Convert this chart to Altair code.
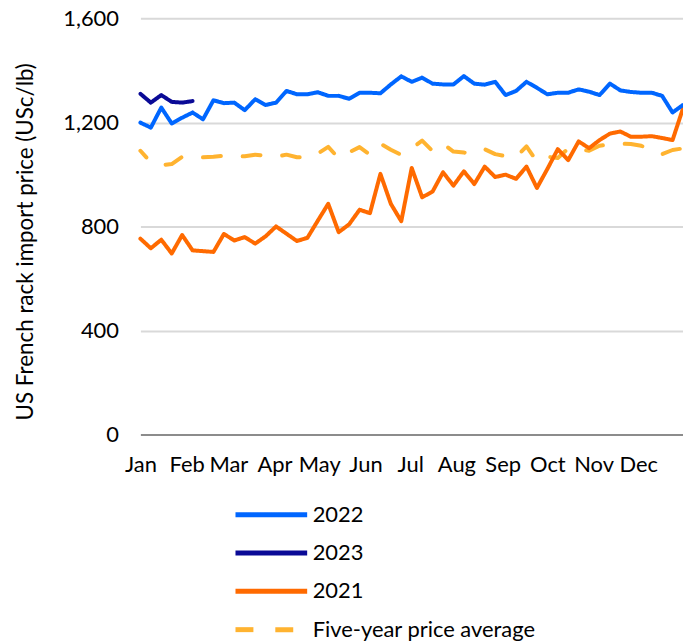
import altair as alt
import pandas as pd

# Weekly x positions (53 weeks spanning Jan 1 - Dec 31)
weeks = pd.date_range("2022-01-01", periods=53, freq="7D").strftime("%Y-%m-%d").tolist()

s2022 = [1199, 1180, 1257, 1196, 1218, 1238, 1212, 1285, 1274, 1276, 1247, 1289, 1267, 1276,
         1321, 1308, 1308, 1316, 1302, 1302, 1291, 1314, 1314, 1312, 1346, 1377, 1356, 1372,
         1349, 1346, 1346, 1378, 1349, 1345, 1356, 1305, 1321, 1356, 1333, 1308, 1314, 1314,
         1327, 1318, 1305, 1349, 1323, 1317, 1314, 1314, 1302, 1238, 1267]
s2023 = [1310, 1276, 1305, 1279, 1276, 1282]
s2021 = [753, 716, 749, 696, 767, 708, 705, 702, 771, 746, 759, 734, 762, 800, 772, 744, 756,
         822, 887, 778, 808, 864, 851, 1002, 887, 820, 1025, 912, 934, 1008, 957, 1012, 963,
         1030, 990, 999, 983, 1030, 948, 1021, 1097, 1055, 1127, 1101, 1132, 1157, 1165, 1145,
         1145, 1147, 1140, 1132, 1254]
avg5 = [1091, 1046, 1035, 1040, 1068, 1063, 1066, 1068, 1072, 1068, 1070, 1076, 1072, 1068,
        1076, 1066, 1066, 1080, 1106, 1062, 1085, 1105, 1076, 1118, 1095, 1075, 1100, 1130,
        1090, 1118, 1088, 1084, 1080, 1097, 1078, 1070, 1066, 1108, 1050, 1068, 1063, 1100,
        1098, 1091, 1110, 1117, 1118, 1117, 1110, 1094, 1078, 1094, 1100]

series_names = ["2022", "2023", "2021", "Five-year price average"]
series_colors = ["#0066ff", "#0a0a96", "#ff6a00", "#ffb330"]
series_dash = [[1, 0], [1, 0], [1, 0], [18, 22]]
month_labels = ["Jan", "Feb", "Mar", "Apr", "May", "Jun",
                "Jul", "Aug", "Sep", "Oct", "Nov", "Dec"]
y_ticks = [0, 400, 800, 1200, 1600]
y_title = "US French rack import price (USc/lb)"

rows = []
for name, vals in [("Five-year price average", avg5), ("2021", s2021),
                   ("2022", s2022), ("2023", s2023)]:
    for d, v in zip(weeks, vals):
        rows.append({"week": d, "price": v, "series": name})
df = pd.DataFrame(rows)

FONT = "Lato"
month_expr = "[" + ",".join("'%s'" % m for m in month_labels) + "][utcmonth(datum.value)]"

legend = alt.Legend(title=None, orient="none", legendX=111, legendY=478,
                    direction="vertical", symbolType="M-2,0H2",
                    symbolSize=1296, symbolStrokeWidth=5, labelOffset=21,
                    labelFontSize=22, labelFont=FONT, labelColor="#000000",
                    labelLimit=600, padding=0, rowPadding=6.5)

chart = alt.Chart(df).mark_line(strokeWidth=4, strokeCap="round", strokeJoin="round",
                                strokeDashOffset=9).encode(
    x=alt.X("week:T",
            scale=alt.Scale(type="utc",
                            domain=[alt.DateTime(year=2022, month=1, date=1, utc=True),
                                    alt.DateTime(year=2022, month=12, date=31, utc=True)]),
            axis=alt.Axis(title=None, labelExpr=month_expr, tickCount="month",
                          labelFlush=False, labelOverlap=False, ticks=False, grid=False,
                          domainColor="#8c8c8c", domainWidth=2, labelFontSize=22,
                          labelFont=FONT, labelColor="#000000", labelPadding=20)),
    y=alt.Y("price:Q",
            scale=alt.Scale(domain=[0, 1600], nice=False),
            axis=alt.Axis(title=y_title, values=y_ticks, format=",d", ticks=False,
                          domain=False, gridColor="#d9d9d9", gridWidth=2,
                          labelFontSize=22, labelFont=FONT, labelColor="#000000",
                          labelPadding=22, titleFontSize=22.5, titleFont=FONT,
                          titleFontWeight="normal", titleColor="#000000",
                          titleX=-108, titleY=224, titleAngle=270,
                          titleAlign="center", titleBaseline="alphabetic")),
    color=alt.Color("series:N",
                    scale=alt.Scale(domain=series_names, range=series_colors),
                    legend=legend),
    strokeDash=alt.StrokeDash("series:N",
                              scale=alt.Scale(domain=series_names, range=series_dash),
                              legend=legend),
    order=alt.Order("series:N"),
).properties(
    width=545, height=418,
    autosize=alt.AutoSizeParams(type="none"),
    padding={"left": 133, "top": 9, "right": 0, "bottom": 209},
).configure_view(stroke=None)

chart.save("out.html", embed_options={"renderer": "svg", "actions": False})
